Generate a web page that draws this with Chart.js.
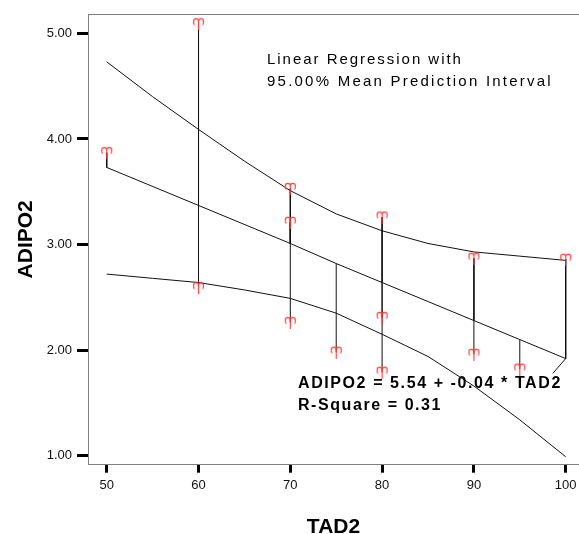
<!DOCTYPE html>
<html>
<head>
<meta charset="utf-8">
<script src="https://cdn.jsdelivr.net/npm/chart.js@4/dist/chart.umd.min.js"></script>
<style>
  html, body { margin: 0; padding: 0; background: #fff; }
  canvas { display: block; }
</style>
</head>
<body>
<canvas id="chart" width="579" height="534"></canvas>
<script>
// observed points (TAD2, ADIPO2)
const pointX = [50, 60, 60, 70, 70, 70, 75, 80, 80, 80, 90, 90, 95, 100];
const pointY = [3.87, 5.09, 2.59, 3.53, 3.21, 2.26, 1.98, 3.26, 2.31, 1.79, 2.87, 1.96, 1.82, 2.86];

const fitX = [50, 60, 70, 75, 80, 90, 95, 100];
const fitY = [3.73, 3.37, 3.01, 2.82, 2.64, 2.28, 2.10, 1.92];

// 95% mean prediction interval
const bandX = [50, 55, 60, 65, 70, 75, 80, 85, 90, 95, 100];
const bandUpper = [4.73, 4.40, 4.09, 3.79, 3.51, 3.29, 3.13, 3.01, 2.93, 2.89, 2.85];
const bandLower = [2.72, 2.68, 2.64, 2.57, 2.49, 2.35, 2.15, 1.94, 1.66, 1.34, 0.99];

// leader from the line end to the equation label
const leaderX = [100, 98.6];
const leaderY = [1.92, 1.78];

const xTicks = [50, 60, 70, 80, 90, 100];
const yTicks = [1, 2, 3, 4, 5];

const legendLines = ['Linear Regression with', '95.00% Mean Prediction Interval'];
const equationLines = ['ADIPO2 = 5.54 + -0.04 * TAD2', 'R-Square = 0.31'];

const FONT = 'Arial, "Liberation Sans", sans-serif';

// ♈-like marker used by the original
function makeMarker() {
    const c = document.createElement('canvas');
    c.width = 13; c.height = 13;
    const g = c.getContext('2d');
    g.strokeStyle = '#ff3c3c';
    g.lineWidth = 1.15;
    g.lineCap = 'round';
    g.beginPath();
    g.moveTo(6.5, 12.5);
    g.lineTo(6.5, 4.4);
    g.arc(4.0, 3.9, 2.5, 0, Math.PI, true);
    g.quadraticCurveTo(1.5, 5.8, 2.1, 7.2);
    g.moveTo(6.5, 4.4);
    g.arc(9.0, 3.9, 2.5, Math.PI, 0, false);
    g.quadraticCurveTo(11.5, 5.8, 10.9, 7.2);
    g.stroke();
    return c;
}

const fitAt = {};
fitX.forEach((x, i) => fitAt[x] = fitY[i]);

const spikes = [];
pointX.forEach((x, i) => {
    spikes.push({x, y: pointY[i]}, {x, y: fitAt[x]}, {x, y: null});
});

const lineStyle = {
    type: 'line', borderColor: '#111', borderWidth: 1, pointRadius: 0,
    tension: 0, fill: false, spanGaps: false
};

// text spread out to a given width like the original rendering
function spacedText(ctx, text, x, y, width) {
    ctx.letterSpacing = '0px';
    const w = ctx.measureText(text).width;
    const sp = Math.max(0, (width - w) / text.length);
    ctx.letterSpacing = sp.toFixed(2) + 'px';
    ctx.fillText(text, x, y);
    ctx.letterSpacing = '0px';
}

const textPlugin = {
    id: 'regText',
    afterDraw(chart) {
        const ctx = chart.ctx;
        ctx.save();
        ctx.fillStyle = '#000';
        ctx.textBaseline = 'middle';
        ctx.textAlign = 'left';
        ctx.font = '15px ' + FONT;
        spacedText(ctx, legendLines[0], 267, 60, 196);
        spacedText(ctx, legendLines[1], 267, 82, 286);
        ctx.font = 'bold 16px ' + FONT;
        spacedText(ctx, equationLines[0], 298, 384, 264);
        spacedText(ctx, equationLines[1], 298, 406, 144);
        ctx.restore();
    }
};

new Chart(document.getElementById('chart'), {
    type: 'scatter',
    data: {
        datasets: [
            {
                data: pointX.map((x, i) => ({x, y: pointY[i]})),
                pointStyle: makeMarker(),
                pointRadius: 6,
                showLine: false
            },
            Object.assign({data: spikes}, lineStyle),
            Object.assign({data: fitX.map((x, i) => ({x, y: fitY[i]}))}, lineStyle),
            Object.assign({data: bandX.map((x, i) => ({x, y: bandUpper[i]}))}, lineStyle),
            Object.assign({data: bandX.map((x, i) => ({x, y: bandLower[i]}))}, lineStyle),
            Object.assign({data: leaderX.map((x, i) => ({x, y: leaderY[i]}))}, lineStyle)
        ]
    },
    options: {
        responsive: false,
        animation: false,
        events: [],
        layout: { padding: 0, autoPadding: false },
        plugins: { legend: { display: false }, tooltip: { enabled: false } },
        scales: {
            x: {
                type: 'linear',
                position: 'bottom',
                min: 47.96,
                max: 101.45,
                afterBuildTicks: s => { s.ticks = xTicks.map(v => ({value: v})); },
                afterFit: s => { s.height = 69.3; s.paddingLeft = 0; s.paddingRight = 0; },
                grid: { drawOnChartArea: false, tickLength: 8, tickWidth: 3, tickColor: '#000' },
                border: { color: '#808080', width: 1 },
                ticks: { padding: 5, color: '#111', font: { family: FONT, size: 13 }, maxRotation: 0,
                         callback: v => String(v) },
                title: { display: true, text: 'TAD2', color: '#000',
                         font: { family: FONT, size: 21, weight: 'bold', lineHeight: 0.67 },
                         padding: { top: 0, bottom: 0 } }
            },
            xTop: {
                type: 'linear',
                position: 'top',
                min: 47.96,
                max: 101.45,
                afterFit: s => { s.height = 14; s.paddingLeft = 0; s.paddingRight = 0; },
                grid: { drawOnChartArea: false, drawTicks: false },
                border: { color: '#808080', width: 1 },
                ticks: { display: false }
            },
            y: {
                type: 'linear',
                min: 0.915,
                max: 5.183,
                afterBuildTicks: s => { s.ticks = yTicks.map(v => ({value: v})); },
                afterFit: s => { s.width = 88; s.paddingTop = 0; s.paddingBottom = 0; },
                grid: { drawOnChartArea: false, tickLength: 11, tickWidth: 3, tickColor: '#000' },
                border: { color: '#808080', width: 1 },
                ticks: { padding: 5, color: '#111', font: { family: FONT, size: 13 },
                         callback: v => v.toFixed(2) },
                title: { display: true, text: 'ADIPO2', color: '#000',
                         font: { family: FONT, size: 21, weight: 'bold', lineHeight: 1.2 },
                         padding: { top: 14, bottom: 0 } }
            }
        }
    },
    plugins: [textPlugin]
});
</script>
</body>
</html>
